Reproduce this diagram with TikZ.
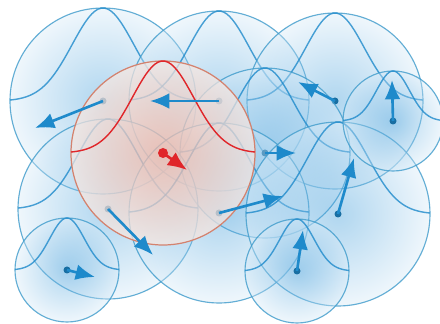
\documentclass[tikz,border=0pt]{standalone}
\usepackage{xcolor}
\definecolor{ringblue}{HTML}{3E9BCB}
\definecolor{flowblue}{HTML}{1E8ACB}
\definecolor{coreblue}{HTML}{3A9AD9}
\definecolor{paleblue}{HTML}{D8EBF8}
\definecolor{hotred}{HTML}{E0262A}
\definecolor{redring}{HTML}{D4826E}
\definecolor{redcore}{HTML}{F2B2A0}
\definecolor{redpale}{HTML}{F6E7E1}
\usepackage{tikz}
\usetikzlibrary{arrows.meta}

\begin{document}
\begin{tikzpicture}[x=0.02cm,y=-0.02cm,
  kernel/.style={draw=ringblue,draw opacity=.8,line width=.65pt,inner color=coreblue,outer color=paleblue,fill opacity=.4},
  bell/.style={draw=flowblue,line width=.8pt,opacity=.8},
  centre/.style={fill=flowblue!80!black},
  flow/.style={-{Latex[length=11pt,width=9pt]},draw=flowblue,line width=1.5pt},
  redkernel/.style={draw=redring,line width=.7pt,inner color=redcore,outer color=redpale,fill opacity=.72}
]
\useasboundingbox[fill=white] (0,0) rectangle (440,324);
% blue kernels: name/x/y/radius/arrow tip
\foreach \n/\px/\py/\r/\tx/\ty in {A/103/101/93/35/128, B/219/101/90/150/101, D/335/101/88/298/82,
    K/265/153/85/296/153, F/108/209/90/153/255, G/219/213/90/283/196, H/338/214/92/354/158,
    E/393/121/50/392/80, I/67/270/52/95/277, J/297/271/52/303/230}{
  \coordinate (c\n) at (\px,\py);
  \coordinate (t\n) at (\tx,\ty);
  \shade[kernel] (c\n) circle[radius=\r];
  \draw[bell] plot[variable=\t,domain=-1:1,samples=60] ({\px+\r*\t},{\py-\r*exp(-((\t)^2)/0.22)});
  \fill[centre] (c\n) circle[radius=3.5];
}
% the red kernel
\coordinate (cC) at (163,153);
\coordinate (tC) at (187,170);
\shade[redkernel] (cC) circle[radius=92];
\draw[hotred,line width=.8pt] plot[variable=\t,domain=-1:1,samples=60] ({163+92*\t},{153-92*exp(-((\t)^2)/0.22)});
% moves
\foreach \n in {A,B,D,K,F,G,H,E,I,J}{
  \draw[flow] (c\n) -- (t\n);
}
\draw[flow,draw=hotred] (cC) -- (tC);
\fill[hotred] (cC) circle[radius=5];
\end{tikzpicture}
\end{document}
